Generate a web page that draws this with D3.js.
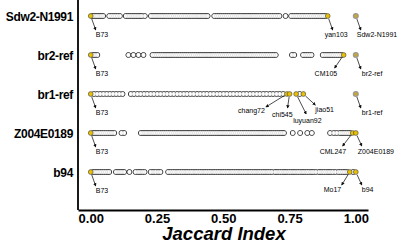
<!DOCTYPE html>
<html>
<head>
<meta charset="utf-8">
<script src="https://cdn.jsdelivr.net/npm/d3@7/dist/d3.min.js"></script>
<style>
  body { margin: 0; background: #fff; }
</style>
</head>
<body>
<div class="chart"></div>
<script>
// row labels (query genomes), top to bottom
const rows = ['Sdw2-N1991', 'br2-ref', 'br1-ref', 'Z004E0189', 'b94']
const tickValues = [0, 0.25, 0.5, 0.75, 1]

// jaccard index of every other genome vs the row genome
const sdw2Values = [
  0.005, 0.012, 0.020, 0.027, 0.035, 0.041, 0.047,
  0.070, 0.078, 0.086, 0.093, 0.101, 0.110,
  0.132, 0.140, 0.147, 0.155, 0.163, 0.170, 0.178, 0.186, 0.193, 0.204,
  0.227, 0.235, 0.242, 0.250, 0.258, 0.266, 0.273, 0.281, 0.289, 0.297, 0.304, 0.312, 0.320,
  0.327, 0.335, 0.343, 0.351, 0.358, 0.366, 0.374, 0.381, 0.389, 0.397, 0.405, 0.412, 0.420,
  0.428, 0.435, 0.441,
  0.466, 0.474, 0.481, 0.489, 0.497, 0.505, 0.512, 0.520, 0.528, 0.536, 0.543, 0.551, 0.559,
  0.566, 0.574, 0.582, 0.590, 0.597, 0.605, 0.613, 0.620, 0.628, 0.636, 0.644, 0.651, 0.659,
  0.667, 0.674, 0.682, 0.690, 0.697, 0.705, 0.712,
  0.735,
  0.756, 0.764, 0.772, 0.779, 0.787, 0.795, 0.802, 0.810, 0.818, 0.826, 0.833, 0.841, 0.849,
  0.856, 0.864, 0.872, 0.879, 0.886
]
const br2Values = [
  0.008, 0.016, 0.025,
  0.142, 0.161, 0.180, 0.199,
  0.233, 0.241, 0.249, 0.256, 0.264, 0.272, 0.280, 0.288, 0.295, 0.303, 0.311, 0.319, 0.326,
  0.334, 0.342, 0.350, 0.357, 0.365, 0.373, 0.381, 0.388, 0.396, 0.404, 0.412, 0.419, 0.427,
  0.435, 0.443, 0.450, 0.458, 0.466, 0.474, 0.481, 0.489, 0.497, 0.505, 0.512, 0.520, 0.528,
  0.536, 0.543, 0.551, 0.559, 0.567, 0.574, 0.582, 0.590, 0.598, 0.605, 0.613, 0.621, 0.629,
  0.636, 0.644, 0.652, 0.660, 0.667, 0.675, 0.683, 0.690, 0.698,
  0.759, 0.768,
  0.801, 0.809, 0.817, 0.825, 0.833,
  0.875, 0.883, 0.891, 0.899, 0.907, 0.915, 0.923, 0.931, 0.939, 0.947
]
const br1Values = [
  0.012, 0.024, 0.036, 0.048, 0.060, 0.072, 0.084, 0.096, 0.108, 0.120,
  0.151, 0.163, 0.176, 0.188, 0.201, 0.213, 0.226, 0.238, 0.251, 0.263, 0.276, 0.288,
  0.301, 0.313, 0.326, 0.338, 0.351, 0.363, 0.376, 0.388, 0.401, 0.413, 0.426, 0.438,
  0.451, 0.463, 0.476, 0.488, 0.501, 0.513, 0.526, 0.538, 0.551, 0.563, 0.576, 0.588,
  0.601, 0.613, 0.626, 0.638, 0.651, 0.663, 0.676, 0.688, 0.701, 0.713, 0.726,
  0.788
]
const z004Values = [
  0.008, 0.016, 0.024, 0.032, 0.040, 0.048, 0.056, 0.064, 0.072, 0.080, 0.089,
  0.116, 0.126,
  0.189, 0.197, 0.205, 0.212, 0.220, 0.228, 0.236, 0.243, 0.251, 0.259, 0.267, 0.274, 0.282,
  0.290, 0.298, 0.305, 0.313, 0.321, 0.329, 0.336, 0.344, 0.352, 0.360, 0.367, 0.375, 0.383,
  0.391, 0.398, 0.406, 0.414, 0.422, 0.429, 0.437, 0.445, 0.453, 0.460, 0.468, 0.476, 0.484,
  0.491, 0.499, 0.507, 0.515, 0.522, 0.530, 0.538, 0.546, 0.553, 0.561, 0.569, 0.577, 0.584,
  0.592, 0.600, 0.608, 0.615, 0.623, 0.631, 0.639, 0.646, 0.654, 0.662, 0.670, 0.677, 0.685,
  0.693, 0.701, 0.708, 0.716, 0.722, 0.729,
  0.762, 0.790, 0.817, 0.834,
  0.903, 0.917, 0.928,
  0.940, 0.948, 0.956, 0.964, 0.972, 0.979
]
const b94Values = [
  0.008, 0.016, 0.024, 0.032, 0.040, 0.048, 0.056, 0.064, 0.070,
  0.095, 0.103, 0.111, 0.118, 0.126,
  0.146,
  0.169, 0.178, 0.186, 0.195, 0.203,
  0.226, 0.235, 0.244, 0.254, 0.263,
  0.292, 0.300, 0.309, 0.317, 0.326, 0.334, 0.343, 0.351, 0.360, 0.368, 0.377, 0.385, 0.394,
  0.402, 0.411, 0.419, 0.428, 0.436, 0.445, 0.453, 0.462, 0.470, 0.479, 0.487, 0.496, 0.504,
  0.513, 0.521, 0.530, 0.538, 0.547, 0.555, 0.564, 0.572, 0.581, 0.589, 0.598, 0.606, 0.615,
  0.623, 0.632, 0.640, 0.649, 0.657, 0.666, 0.674, 0.683,
  0.695, 0.703, 0.712, 0.720, 0.729, 0.737, 0.746, 0.754, 0.763, 0.771, 0.780, 0.788, 0.797,
  0.805, 0.814, 0.822, 0.831, 0.839, 0.849,
  0.861, 0.869, 0.878, 0.886, 0.895, 0.903, 0.912, 0.922,
  0.934, 0.942, 0.951, 0.959, 0.968,
  0.990
]

// named genomes that get a label
const sdw2Marked = ['B73', 'yan103', 'Sdw2-N1991']
const sdw2MarkedValues = [0, 0.894, 1]
const br2Marked = ['B73', 'CM105', 'br2-ref']
const br2MarkedValues = [0, 0.954, 1]
const br1Marked = ['B73', 'chang72', 'chi545', 'luyuan92', 'jiao51', 'br1-ref']
const br1MarkedValues = [0, 0.74, 0.75, 0.775, 0.802, 1]
const z004Marked = ['B73', 'CML247', 'Z004E0189']
const z004MarkedValues = [0, 0.988, 1]
const b94Marked = ['B73', 'Mo17', 'b94']
const b94MarkedValues = [0, 0.977, 1]

// self hits drawn grey
const greyMarked = ['Sdw2-N1991', 'br2-ref', 'br1-ref']

const allValues = [sdw2Values, br2Values, br1Values, z004Values, b94Values]
const allMarked = [sdw2Marked, br2Marked, br1Marked, z004Marked, b94Marked]
const allMarkedValues = [sdw2MarkedValues, br2MarkedValues, br1MarkedValues, z004MarkedValues, b94MarkedValues]

// label placement: arrow end dx, dy, text dx, dy, anchor
const labelPos = {
  'B73': [5, 14, 5, 21, 'start'],
  'yan103': [5, 14, -3, 21, 'start'],
  'Sdw2-N1991': [5, 14, 1, 21, 'start'],
  'CM105': [-9, 13, -29, 21, 'start'],
  'br2-ref': [5, 14, 6, 21, 'start'],
  'chang72': [-21, 13, -22, 18.5, 'end'],
  'chi545': [-2, 14, -17.5, 23, 'start'],
  'luyuan92': [10, 20, -3, 28.5, 'start'],
  'jiao51': [12, 11, 12, 18, 'start'],
  'br1-ref': [5, 14, 6, 21, 'start'],
  'CML247': [-10, 13, -33, 21, 'start'],
  'Z004E0189': [6, 13, 2, 21, 'start'],
  'Mo17': [-8, 13, -26, 20, 'start'],
  'b94': [6, 13, 6, 20, 'start']
}

const width = 400
const height = 243
const r = 2.4

const x = d3.scaleLinear().domain([-0.048, 1.046]).range([78, 368])
const y = d3.scalePoint().domain(rows).range([16, 172])

const svg = d3
  .select('.chart')
  .append('svg')
  .attr('width', width)
  .attr('height', height)
  .style('font-family', 'Liberation Sans, Arial, sans-serif')

svg
  .append('defs')
  .append('marker')
  .attr('id', 'arrow')
  .attr('viewBox', '0 0 6 6')
  .attr('refX', 5)
  .attr('refY', 3)
  .attr('markerWidth', 3.4)
  .attr('markerHeight', 3.4)
  .attr('markerUnits', 'userSpaceOnUse')
  .attr('orient', 'auto')
  .append('path')
  .attr('d', 'M0,0 L6,3 L0,6 z')
  .attr('fill', '#111')

// left frame line
svg
  .append('line')
  .attr('x1', 78)
  .attr('x2', 78)
  .attr('y1', 0)
  .attr('y2', 210)
  .attr('stroke', '#000')
  .attr('stroke-width', 1.8)

// bottom axis
const xAxis = svg
  .append('g')
  .attr('transform', 'translate(0,210)')
  .call(
    d3
      .axisBottom(x)
      .tickValues(tickValues)
      .tickFormat(d3.format('.2f'))
      .tickSizeInner(0)
      .tickSizeOuter(0)
      .tickPadding(3.5)
  )
xAxis.select('.domain').attr('stroke', '#000').attr('stroke-width', 1.8)
xAxis
  .selectAll('text')
  .attr('font-family', 'Liberation Sans, Arial, sans-serif')
  .attr('font-size', 13)
  .attr('font-weight', 'bold')
  .attr('fill', '#000')

svg
  .append('text')
  .attr('x', 224)
  .attr('y', 239.5)
  .attr('text-anchor', 'middle')
  .attr('font-size', 18.5)
  .attr('font-weight', 'bold')
  .attr('font-style', 'italic')
  .text('Jaccard Index')

// row labels
svg
  .selectAll('.row-label')
  .data(rows)
  .enter()
  .append('text')
  .attr('class', 'row-label')
  .attr('x', 73)
  .attr('y', d => y(d) + 5)
  .attr('text-anchor', 'end')
  .attr('font-size', 12)
  .attr('font-weight', 'bold')
  .attr('letter-spacing', -0.35)
  .text(d => d)

rows.forEach((row, i) => {
  const cy = y(row)
  const g = svg.append('g')
  const vals = allValues[i]

  // outline of the overlapping points, then white bodies, then faint inner rims
  g.selectAll('.rim')
    .data(vals)
    .enter()
    .append('circle')
    .attr('cx', d => x(d))
    .attr('cy', cy)
    .attr('r', r)
    .attr('fill', 'none')
    .attr('stroke', '#111')
    .attr('stroke-width', 1)
  g.selectAll('.body')
    .data(vals)
    .enter()
    .append('circle')
    .attr('cx', d => x(d))
    .attr('cy', cy)
    .attr('r', r - 0.5)
    .attr('fill', '#fff')
  g.selectAll('.inner')
    .data(vals)
    .enter()
    .append('circle')
    .attr('cx', d => x(d))
    .attr('cy', cy)
    .attr('r', r - 0.3)
    .attr('fill', 'none')
    .attr('stroke', '#c4c4c4')
    .attr('stroke-width', 0.3)

  const marked = allMarked[i].map((name, j) => ({name: name, value: allMarkedValues[i][j]}))

  marked.forEach(d => {
    const px = x(d.value)
    const p = labelPos[d.name]
    const len = Math.sqrt(p[0] * p[0] + p[1] * p[1])
    g.append('line')
      .attr('x1', px + (p[0] / len) * (r + 0.5))
      .attr('y1', cy + (p[1] / len) * (r + 0.5))
      .attr('x2', px + p[0])
      .attr('y2', cy + p[1])
      .attr('stroke', '#111')
      .attr('stroke-width', 0.75)
      .attr('marker-end', 'url(#arrow)')
    g.append('text')
      .attr('x', px + p[2])
      .attr('y', cy + p[3])
      .attr('text-anchor', p[4])
      .attr('font-size', 7)
      .attr('fill', '#000')
      .text(d.name)
  })

  g.selectAll('.mark')
    .data(marked)
    .enter()
    .append('circle')
    .attr('class', 'mark')
    .attr('cx', d => x(d.value))
    .attr('cy', cy)
    .attr('r', r)
    .attr('fill', d => (greyMarked.includes(d.name) ? '#c9a72a' : '#e9c100'))
    .attr('stroke', d => (greyMarked.includes(d.name) ? '#9a9a9a' : '#555'))
    .attr('stroke-width', d => (greyMarked.includes(d.name) ? 1.3 : 0.7))
})
</script>
</body>
</html>
